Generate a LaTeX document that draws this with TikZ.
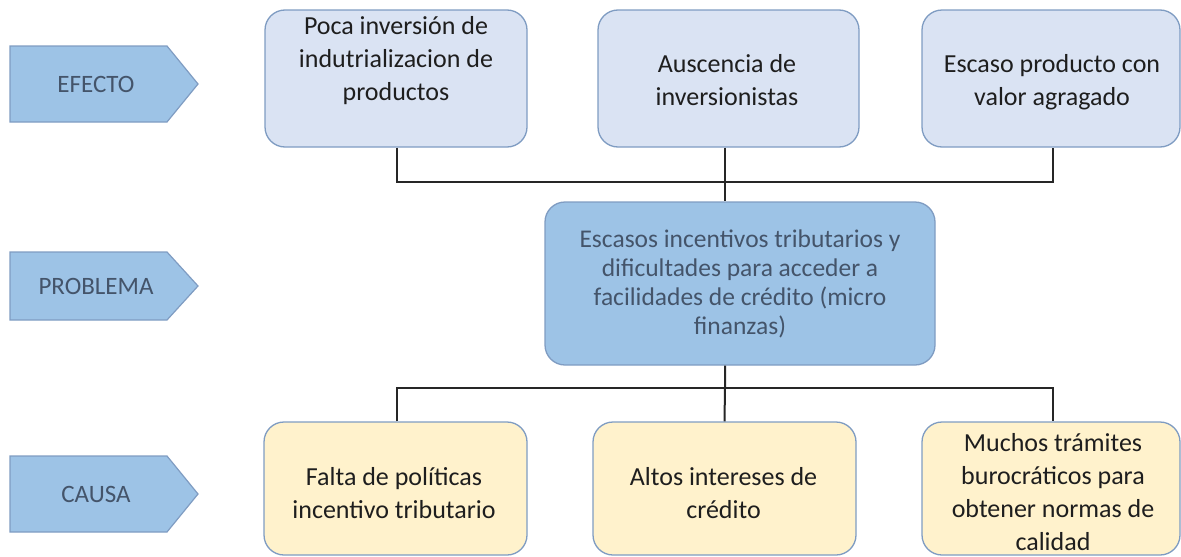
\documentclass[tikz,border=0pt]{standalone}
\usepackage{fontspec}
\setmainfont{Carlito}
\definecolor{topfill}{HTML}{DAE3F3}
\definecolor{midfill}{HTML}{9DC3E6}
\definecolor{botfill}{HTML}{FFF2CC}
\definecolor{boxline}{HTML}{7F9CC2}
\definecolor{darktxt}{HTML}{1E1E1E}
\definecolor{bluetxt}{HTML}{44546A}
\begin{document}
\begin{tikzpicture}[x=1pt,y=-1pt,
  box/.style={draw=boxline,line width=1.3pt,rounded corners=20pt,inner sep=0pt},
  topbox/.style={box,fill=topfill},
  midbox/.style={box,fill=midfill},
  botbox/.style={box,fill=botfill},
  txt/.style={align=center,inner sep=0pt,font=\fontsize{26}{33}\selectfont,text=darktxt},
  midtxt/.style={align=center,inner sep=0pt,font=\fontsize{25.5}{29}\selectfont,text=bluetxt},
  tagbox/.style={draw=boxline,line width=1.2pt,fill=midfill},
  tagtxt/.style={inner sep=0pt,font=\fontsize{25}{30}\selectfont,text=bluetxt},
  conn/.style={line width=1.3pt,draw=black!85}]
\useasboundingbox (0,0) rectangle (1181,557);
% tags
\draw[tagbox] (10,46) -- (167,46) -- (198,84) -- (167,122) -- (10,122) -- cycle;
\node[tagtxt] (lefecto) at (96,84) {EFECTO};
\draw[tagbox] (10,252) -- (167,252) -- (198,286) -- (167,320) -- (10,320) -- cycle;
\node[tagtxt] (lproblema) at (96,286) {PROBLEMA};
\draw[tagbox] (10,456) -- (167,456) -- (198,494) -- (167,532) -- (10,532) -- cycle;
\node[tagtxt] (lcausa) at (96,494) {CAUSA};
% top boxes
\node[topbox,minimum width=262pt,minimum height=137pt] (t1) at (396,78.5) {};
\node[txt] (t1t) at (396,61) {Poca inversión de\\indutrializacion de\\productos};
\node[topbox,minimum width=261pt,minimum height=137pt] (t2) at (728.5,78.5) {};
\node[txt] (t2t) at (727,80) {Auscencia de\\inversionistas};
\node[topbox,minimum width=258pt,minimum height=137pt] (t3) at (1051,78.5) {};
\node[txt] (t3t) at (1052,82) {Escaso producto con\\valor agragado};
% middle box
\node[midbox,minimum width=390pt,minimum height=163pt] (m) at (740,283.5) {};
\node[midtxt] (mt) at (740,284) {Escasos incentivos tributarios y\\dificultades para acceder a\\facilidades de crédito (micro\\finanzas)};
% bottom boxes
\node[botbox,minimum width=263pt,minimum height=133pt] (b1) at (395.5,488.5) {};
\node[txt] (b1t) at (394,493) {Falta de políticas\\incentivo tributario};
\node[botbox,minimum width=263pt,minimum height=133pt] (b2) at (724.5,488.5) {};
\node[txt] (b2t) at (723.5,493) {Altos intereses de\\crédito};
\node[botbox,minimum width=258pt,minimum height=133pt] (b3) at (1051,488.5) {};
\node[txt] (b3t) at (1053,492) {Muchos trámites\\burocráticos para\\obtener normas de\\calidad};
% connectors
\coordinate (jt) at (725,182);
\coordinate (jb) at (725,388);
\coordinate (t1c) at ([xshift=1pt]t1.south);
\coordinate (t3c) at ([xshift=2pt]t3.south);
\coordinate (b1c) at ([xshift=1.5pt]b1.north);
\coordinate (b3c) at ([xshift=2pt]b3.north);
\draw[conn] (t1c) |- (jt -| t3c) -- (t3c);
\draw[conn,line width=2pt] ([xshift=-3.5pt]t2.south) -- ([xshift=-3.5pt]t2.south |- m.north);
\draw[conn,line width=2pt] ([xshift=-15pt]m.south) -- (jb) -- (b2.north);
\draw[conn] (b1c) |- (jb -| b3c) -- (b3c);
\end{tikzpicture}
\end{document}
